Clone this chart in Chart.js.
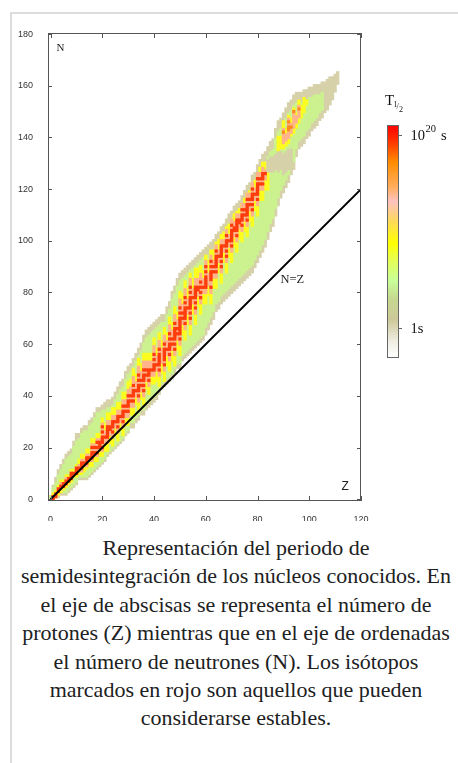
<!DOCTYPE html>
<html><head><meta charset="utf-8">
<script src="https://cdn.jsdelivr.net/npm/chart.js@4.4.1/dist/chart.umd.min.js"></script>
<style>
html,body{margin:0;padding:0;background:#fff;width:458px;height:763px;overflow:hidden;}
#frame{position:absolute;left:10px;top:12px;width:470px;height:770px;border-top:2px solid #dcdcdc;border-left:2px solid #dcdcdc;}
#wrap{position:absolute;left:0;top:0;width:458px;height:530px;}
#cap{position:absolute;left:12px;top:534px;width:448px;text-align:center;font-family:"Liberation Serif","Times New Roman",serif;font-size:22px;line-height:28.4px;color:#202122;white-space:nowrap;}
</style></head><body>
<div id="frame"></div>
<div id="wrap"><canvas id="c" width="458" height="530"></canvas></div>
<div id="cap">Representación del periodo de<br>semidesintegración de los núcleos conocidos. En<br>el eje de abscisas se representa el número de<br>protones (Z) mientras que en el eje de ordenadas<br>el número de neutrones (N). Los isótopos<br>marcados en rojo son aquellos que pueden<br>considerarse estables.</div>
<script>
// Proton number Z (columns)
const Zs = [0,1,2,3,4,5,6,7,8,9,10,11,12,13,14,15,16,17,18,19,20,21,22,23,24,25,26,27,28,29,30,31,32,33,34,35,36,37,38,39,40,41,42,43,44,45,46,47,48,49,50,51,52,53,54,55,56,57,58,59,60,61,62,63,64,65,66,67,68,69,70,71,72,73,74,75,76,77,78,79,80,81,82,83,84,85,86,87,88,89,90,91,92,93,94,95,96,97,98,99,100,101,102,103,104,105,106,107,108,109,110,111];
// Known nuclides: lowest and highest N per Z (short-lived rim)
const nMin = [1,0,1,1,2,2,2,3,4,5,6,8,8,8,8,9,10,11,12,13,14,15,17,18,19,20,21,22,23,25,26,28,28,30,31,33,33,35,36,37,38,39,41,43,44,45,46,47,49,51,51,54,55,56,57,58,59,60,61,62,64,66,68,70,73,74,76,77,78,79,80,81,82,83,84,85,86,87,88,90,92,94,96,98,101,104,106,110,114,117,119,121,123,126,128,133,136,137,138,140,141,143,144,145,147,148,150,151,153,155,158,161];
const nMax = [1,5,8,11,13,15,17,18,19,22,25,25,27,28,28,30,31,33,35,35,36,37,38,38,39,41,43,45,46,49,51,52,54,56,58,60,63,65,66,67,68,69,70,71,71,74,76,80,82,85,87,88,89,90,91,92,93,94,95,96,97,98,99,100,102,103,105,106,108,110,111,113,114,115,117,119,121,122,125,126,129,131,133,134,136,138,139,143,146,147,149,151,153,154,156,157,157,157,158,158,159,159,160,160,160,161,161,162,163,163,164,165];
// Green zone (minutes to months)
const gLo = [1,0,1,2,3,3,3,4,5,6,7,9,9,9,9,10,11,12,13,14,15,16,18,19,20,21,22,23,24,26,27,30,30,32,33,35,35,37,38,39,40,41,43,45,46,47,48,49,51,53,53,56,57,58,59,60,61,62,63,64,67,69,71,73,76,77,79,80,81,82,83,84,85,86,87,88,89,90,91,93,95,97,99,101,104,107,109,113,117,120,122,124,126,129,131,136,139,140,141,143,144,146,147,148,150,151,null,null,null,null,null,null];
const gHi = [1,4,6,9,11,13,15,16,17,20,22,23,25,26,26,28,29,31,33,33,34,34,35,35,36,38,40,42,43,46,48,49,51,53,55,57,60,62,63,64,65,66,67,68,68,71,73,77,79,82,84,85,86,87,88,89,90,91,92,93,93,94,95,96,98,99,101,102,104,106,107,109,110,111,113,115,117,118,121,122,125,127,129,130,132,134,135,139,142,143,145,147,149,150,152,153,153,153,154,154,155,155,156,156,156,157,null,null,null,null,null,null];
// Yellow zone (years)
const yLo = [null,0,1,2,3,4,5,6,7,9,9,10,10,11,12,13,13,15,15,17,17,19,19,22,21,25,23,27,25,29,29,33,33,37,35,39,37,43,41,45,45,46,44,49,46,52,50,54,52,58,56,64,62,68,64,72,68,75,72,76,76,79,76,82,82,88,84,92,88,94,92,98,96,101,100,104,102,108,106,112,110,116,116,120,120,null,null,null,135,136,136,137,138,141,142,144,146,148,150,153,null,null,null,null,null,null,null,null,null,null,null,null];
const yHi = [null,2,3,5,7,7,9,9,11,11,13,15,17,17,19,19,23,23,25,25,31,29,33,33,35,35,37,37,41,41,45,46,50,48,54,52,56,56,56,56,62,58,64,61,66,64,70,68,74,72,80,79,84,81,87,85,89,89,90,88,94,92,96,96,99,100,102,103,105,106,108,110,111,112,114,116,118,119,121,123,125,128,130,130,126,null,null,null,140,140,146,143,148,147,151,149,154,152,155,154,null,null,null,null,null,null,null,null,null,null,null,null];
// Pink / light orange zone (very long-lived)
const pLo = [null,0,1,3,4,5,6,7,8,10,10,11,11,13,13,15,15,17,17,19,19,22,22,25,24,28,26,30,28,32,32,36,36,40,38,42,40,46,44,48,48,50,48,53,50,56,54,58,56,62,60,68,66,72,68,76,72,79,76,80,80,83,80,86,86,92,88,96,92,98,96,102,100,105,104,108,106,112,110,116,114,120,120,124,null,null,null,null,null,null,138,139,140,142,144,146,148,null,null,null,null,null,null,null,null,null,null,null,null,null,null,null];
const pHi = [null,1,2,4,6,6,8,8,10,10,12,13,15,15,17,17,21,21,23,23,29,26,30,30,32,32,34,34,38,38,42,43,47,45,51,49,53,53,53,53,59,55,61,58,63,61,67,65,71,69,77,75,81,77,85,81,85,85,87,85,92,87,94,92,98,96,100,100,104,102,108,107,110,110,114,114,118,118,122,120,126,126,128,127,null,null,null,null,null,null,143,141,147,145,150,148,152,null,null,null,null,null,null,null,null,null,null,null,null,null,null,null];
// Stable isotopes (red): one entry per nuclide
const stableZ = [1,1,2,2,3,3,4,5,5,6,6,7,7,8,8,8,9,10,10,10,11,12,12,12,13,14,14,14,15,16,16,16,16,17,17,18,18,18,19,19,19,20,20,20,20,20,20,21,22,22,22,22,22,23,23,24,24,24,24,25,26,26,26,26,27,28,28,28,28,28,29,29,30,30,30,30,30,31,31,32,32,32,32,32,33,34,34,34,34,34,34,35,35,36,36,36,36,36,36,37,37,38,38,38,38,39,40,40,40,40,40,41,42,42,42,42,42,42,42,44,44,44,44,44,44,44,45,46,46,46,46,46,46,47,47,48,48,48,48,48,48,48,48,49,49,50,50,50,50,50,50,50,50,50,50,51,51,52,52,52,52,52,52,52,52,53,54,54,54,54,54,54,54,54,54,55,56,56,56,56,56,56,56,57,57,58,58,58,58,59,60,60,60,60,60,60,60,62,62,62,62,62,62,62,63,63,64,64,64,64,64,64,64,65,66,66,66,66,66,66,66,67,68,68,68,68,68,68,69,70,70,70,70,70,70,70,71,71,72,72,72,72,72,72,73,73,74,74,74,74,74,75,75,76,76,76,76,76,76,76,77,77,78,78,78,78,78,78,79,80,80,80,80,80,80,80,81,81,82,82,82,82,83];
const stableN = [0,1,1,2,3,4,5,5,6,6,7,7,8,8,9,10,10,10,11,12,12,12,13,14,14,14,15,16,16,16,17,18,20,18,20,18,20,22,20,21,22,20,22,23,24,26,28,24,24,25,26,27,28,27,28,26,28,29,30,30,28,30,31,32,32,30,32,33,34,36,34,36,34,36,37,38,40,38,40,38,40,41,42,44,42,40,42,43,44,46,48,44,46,42,44,46,47,48,50,48,50,46,48,49,50,50,50,51,52,54,56,52,50,52,53,54,55,56,58,52,54,55,56,57,58,60,58,56,58,59,60,62,64,60,62,58,60,62,63,64,65,66,68,64,66,62,64,65,66,67,68,69,70,72,74,70,72,68,70,71,72,73,74,76,78,74,70,72,74,75,76,77,78,80,82,78,74,76,78,79,80,81,82,81,82,78,80,82,84,82,82,83,84,85,86,88,90,82,85,86,87,88,90,92,88,90,88,90,91,92,93,94,96,94,90,92,94,95,96,97,98,98,94,96,98,99,100,102,100,98,100,101,102,103,104,106,104,105,102,104,105,106,107,108,107,108,106,108,109,110,112,110,112,108,110,111,112,113,114,116,114,116,112,114,116,117,118,120,118,116,118,119,120,121,122,124,122,124,122,124,125,126,126];
// Very long-lived actinides (orange)
const longZ = [90,92,92,92,93,94,96];
const longN = [142,143,144,146,144,150,151];
// Very short-lived pocket above N=126 (Po..Np)
const gapLo = [null,null,null,null,null,null,null,null,null,null,null,null,null,null,null,null,null,null,null,null,null,null,null,null,null,null,null,null,null,null,null,null,null,null,null,null,null,null,null,null,null,null,null,null,null,null,null,null,null,null,null,null,null,null,null,null,null,null,null,null,null,null,null,null,null,null,null,null,null,null,null,null,null,null,null,null,null,null,null,null,null,null,null,null,127,127,127,128,127,128,126,127,128,129,null,null,null,null,null,null,null,null,null,null,null,null,null,null,null,null,null,null];
const gapHi = [null,null,null,null,null,null,null,null,null,null,null,null,null,null,null,null,null,null,null,null,null,null,null,null,null,null,null,null,null,null,null,null,null,null,null,null,null,null,null,null,null,null,null,null,null,null,null,null,null,null,null,null,null,null,null,null,null,null,null,null,null,null,null,null,null,null,null,null,null,null,null,null,null,null,null,null,null,null,null,null,null,null,null,null,131,132,132,133,134,134,133,134,135,135,null,null,null,null,null,null,null,null,null,null,null,null,null,null,null,null,null,null];
// N = Z reference line
const lineNZ = [0,120];
// Axis tick labels
const xTicks = [0,20,40,60,80,100,120];
const yTicks = [0,20,40,60,80,100,120,140,160,180];
// Colour scale ticks (log10 of half-life in s)
const cbTickVals = [20,0];

const COL = {beige:'#d6d1a9', green:'#cbf28f', yellow:'#fcfc1e', pink:'#ffb48c', red:'#ff3c0c', orange:'#ff8a20'};

function band(lo, hi){
  const out = [];
  for (let i = 0; i < Zs.length; i++) {
    if (lo[i] == null || hi[i] == null) continue;
    out.push({x: Zs[i], y: [lo[i] - 0.5, hi[i] + 0.5]});
  }
  return out;
}
function cells(zs, ns){
  return zs.map((z, i) => ({x: z, y: [ns[i] - 0.5, ns[i] + 0.5]}));
}

const deco = {
  id: 'deco',
  afterDraw(chart) {
    const ctx = chart.ctx, a = chart.chartArea, xs = chart.scales.x, ys = chart.scales.y;
    ctx.save();
    ctx.strokeStyle = '#555'; ctx.lineWidth = 1;
    ctx.strokeRect(Math.round(a.left) + 0.5, Math.round(a.top) + 0.5, Math.round(a.right - a.left) - 1, Math.round(a.bottom - a.top) - 1);
    ctx.beginPath();
    xTicks.forEach(v => {
      const p = Math.round(xs.getPixelForValue(v)) + 0.5;
      ctx.moveTo(p, a.bottom); ctx.lineTo(p, a.bottom - 5);
      ctx.moveTo(p, a.top); ctx.lineTo(p, a.top + 5);
    });
    yTicks.forEach(v => {
      const p = Math.round(ys.getPixelForValue(v)) + 0.5;
      ctx.moveTo(a.left, p); ctx.lineTo(a.left + 4, p);
      ctx.moveTo(a.right, p); ctx.lineTo(a.right - 4, p);
    });
    ctx.stroke();
    ctx.fillStyle = '#222';
    ctx.font = '11px "Liberation Serif", serif';
    ctx.textBaseline = 'alphabetic'; ctx.textAlign = 'left';
    ctx.fillText('N', 56.5, 50.5);
    ctx.font = '12px "Liberation Sans", sans-serif';
    ctx.fillText('Z', 341.5, 489.5);
    ctx.font = '12.5px "Liberation Serif", serif';
    ctx.fillText('N=Z', 280.5, 282.5);
    // colour bar
    const cx = 387, cw = 11, cy = 125, ch = 232;
    const g = ctx.createLinearGradient(0, cy, 0, cy + ch);
    [[0,'#ff0000'],[0.06,'#ff2a00'],[0.16,'#ff8c00'],[0.27,'#ffae60'],[0.33,'#ffc2c0'],[0.41,'#ffd860'],[0.51,'#ffff00'],[0.58,'#e6ff50'],[0.67,'#c8ff98'],[0.75,'#c6d890'],[0.84,'#cdc89a'],[0.93,'#eeede0'],[1,'#ffffff']].forEach(s => g.addColorStop(s[0], s[1]));
    ctx.fillStyle = g; ctx.fillRect(cx, cy, cw, ch);
    ctx.strokeStyle = '#666'; ctx.strokeRect(cx + 0.5, cy + 0.5, cw, ch);
    const tPix = v => cy + (21 - v) / 24 * ch;
    ctx.beginPath();
    cbTickVals.forEach(v => { const p = Math.round(tPix(v)) + 0.5; ctx.moveTo(cx + cw, p); ctx.lineTo(cx + cw + 4, p); });
    ctx.stroke();
    ctx.fillStyle = '#111';
    ctx.font = '14.5px "Liberation Serif", serif';
    ctx.fillText('10', 410.5, tPix(20) + 5);
    ctx.font = '10.5px "Liberation Serif", serif';
    ctx.fillText('20', 425.5, tPix(20) - 3);
    ctx.font = '14.5px "Liberation Serif", serif';
    ctx.fillText('s', 441, tPix(20) + 5);
    ctx.fillText('1s', 410.5, tPix(0) + 5);
    ctx.font = '15px "Liberation Serif", serif';
    ctx.fillText('T', 385, 105);
    ctx.font = '8px "Liberation Serif", serif';
    ctx.fillText('1', 393.5, 106.5);
    ctx.fillText('/', 396.5, 109);
    ctx.fillText('2', 399, 111.5);
    ctx.restore();
  }
};

new Chart(document.getElementById('c'), {
  type: 'bar',
  data: {
    datasets: [
      {type: 'line', data: lineNZ.map(v => ({x: v, y: v})), borderColor: '#000', borderWidth: 2, pointRadius: 0, order: 0},
      {data: cells(stableZ, stableN), backgroundColor: COL.red, order: 1},
      {data: cells(longZ, longN), backgroundColor: COL.orange, order: 2},
      {data: band(gapLo, gapHi), backgroundColor: COL.beige, order: 3},
      {data: band(pLo, pHi), backgroundColor: COL.pink, order: 4},
      {data: band(yLo, yHi), backgroundColor: COL.yellow, order: 5},
      {data: band(gLo, gHi), backgroundColor: COL.green, order: 6},
      {data: band(nMin, nMax), backgroundColor: COL.beige, order: 7}
    ]
  },
  options: {
    responsive: false, animation: false, events: [], devicePixelRatio: 1,
    datasets: {bar: {grouped: false, barPercentage: 1, categoryPercentage: 1, borderWidth: 0}},
    layout: {padding: {left: 10, right: 97, top: 33, bottom: 9}},
    plugins: {legend: {display: false}, tooltip: {enabled: false}},
    scales: {
      x: {type: 'linear', min: -1, max: 120, offset: false,
          grid: {display: false}, border: {display: false},
          afterBuildTicks: s => { s.ticks = xTicks.map(v => ({value: v})); },
          afterFit: s => { s.height = 20; },
          ticks: {font: {family: 'Liberation Sans', size: 9}, color: '#333', padding: 5, maxRotation: 0, autoSkip: false}},
      y: {type: 'linear', min: -0.7, max: 180.4,
          grid: {display: false}, border: {display: false},
          afterBuildTicks: s => { s.ticks = yTicks.map(v => ({value: v})); },
          afterFit: s => { s.width = 38; },
          ticks: {font: {family: 'Liberation Sans', size: 9}, color: '#333', padding: 7, autoSkip: false}}
    }
  },
  plugins: [deco]
});
</script>
</body></html>
